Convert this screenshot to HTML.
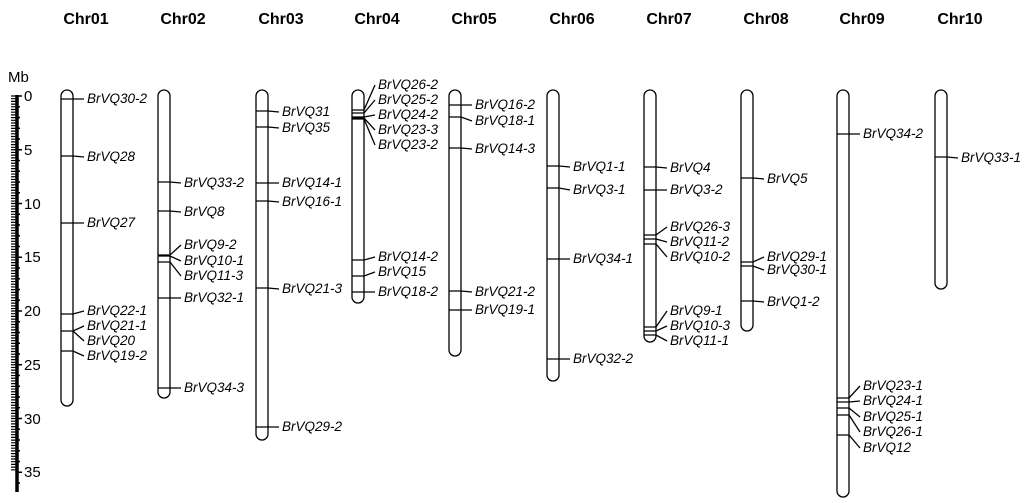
<!DOCTYPE html>
<html><head><meta charset="utf-8"><style>
body{margin:0;background:#fff}
svg{display:block}
.h{font:bold 16px "Liberation Sans",sans-serif}
.l{font:italic 13.5px "Liberation Sans",sans-serif}
.n{font:15px "Liberation Sans",sans-serif}
</style></head><body>
<svg width="1024" height="503" xmlns="http://www.w3.org/2000/svg" stroke="#000" stroke-width="1.3" fill="none">
<g class="h" fill="#000" stroke="none" text-anchor="middle">
<text x="86" y="24">Chr01</text><text x="183" y="24">Chr02</text><text x="281" y="24">Chr03</text><text x="377" y="24">Chr04</text><text x="474" y="24">Chr05</text><text x="572" y="24">Chr06</text><text x="669" y="24">Chr07</text><text x="766" y="24">Chr08</text><text x="862" y="24">Chr09</text><text x="960" y="24">Chr10</text>
</g>
<text class="n" x="8" y="82" fill="#000" stroke="none">Mb</text>
<line x1="17" y1="95" x2="17" y2="492" stroke-width="3.5"/>
<path id="tk" stroke-width="1.2" d="
M11 96.0h7 M11 98.7h7 M11 101.4h7 M11 104.1h7 M11 106.8h7 M11 109.5h7 M11 112.2h7 M11 114.9h7 M11 117.6h7 M11 120.3h7 M11 123.0h7 M11 125.7h7 M11 128.4h7 M11 131.1h7 M11 133.8h7 M11 136.5h7 M11 139.2h7 M11 141.9h7 M11 144.6h7 M11 147.3h7"/>
<use href="#tk" y="53.75"/><use href="#tk" y="107.5"/><use href="#tk" y="161.25"/><use href="#tk" y="215"/><use href="#tk" y="268.75"/><use href="#tk" y="322.5"/>
<g stroke-width="1.5">
<path d="M17 96h5M17 106.75h3M17 117.5h3M17 128.25h3M17 139h3"/>
<path d="M17 149.75h5M17 160.5h3M17 171.25h3M17 182h3M17 192.75h3"/>
<path d="M17 203.5h5M17 214.25h3M17 225h3M17 235.75h3M17 246.5h3"/>
<path d="M17 257.25h5M17 268h3M17 278.75h3M17 289.5h3M17 300.25h3"/>
<path d="M17 311h5M17 321.75h3M17 332.5h3M17 343.25h3M17 354h3"/>
<path d="M17 364.75h5M17 375.5h3M17 386.25h3M17 397h3M17 407.75h3"/>
<path d="M17 418.5h5M17 429.25h3M17 440h3M17 450.75h3M17 461.5h3"/>
<path d="M17 472.25h5M17 483h3"/>
</g>
<g class="n" fill="#000" stroke="none">
<text x="24" y="101">0</text><text x="24" y="155">5</text><text x="24" y="209">10</text><text x="24" y="262">15</text><text x="24" y="316">20</text><text x="24" y="370">25</text><text x="24" y="424">30</text><text x="24" y="477">35</text>
</g>
<rect x="61" y="90" width="12" height="316" rx="6"/>
<rect x="158" y="90" width="12" height="308" rx="6"/>
<rect x="256" y="90" width="12" height="350" rx="6"/>
<rect x="352" y="90" width="12" height="213" rx="6"/>
<rect x="449" y="90" width="12" height="266" rx="6"/>
<rect x="547" y="90" width="12" height="291" rx="6"/>
<rect x="644" y="90" width="12" height="252" rx="6"/>
<rect x="741" y="90" width="12" height="241" rx="6"/>
<rect x="837" y="90" width="12" height="407" rx="6"/>
<rect x="935" y="90" width="12" height="199" rx="6"/>
<path d="
M61 99H73L84 99 M61 156H73L84 157 M61 223H73L84 223 M61 314H73L84 311 M61 331H73L84 326 M73 331L84 341 M61 351H73L84 356
M158 182H170L181 183 M158 211H170L181 212 M158 255H170L181 245 M158 256H170L181 261 M158 262H170L181 276 M158 298H170L181 298 M158 388H170L181 388
M256 111H268L279 112 M256 127H268L279 128 M256 183H268L279 183 M256 201H268L279 202 M256 288H268L279 289 M256 427H268L279 427
M352 110H364L375 85 M352 113H364L375 100 M352 117H364L375 115 M352 118H364L375 130 M352 119H364L375 145 M352 260H364L375 257 M352 276H364L375 272 M352 292H364L375 292
M449 105H461L472 105 M449 117H461L472 121 M449 148H461L472 149 M449 291H461L472 292 M449 310H461L472 310
M547 166H559L570 167 M547 188H559L570 190 M547 259H559L570 259 M547 359H559L570 359
M644 167H656L667 168 M644 190H656L667 190 M644 235H656L667 227 M644 239H656L667 242 M644 244H656L667 257 M644 327H656L667 311 M644 331H656L667 326 M644 335H656L667 341
M741 178H753L764 179 M741 262H753L764 257 M741 266H753L764 270 M741 301H753L764 302
M837 134H849L860 134 M837 398H849L860 386 M837 402H849L860 401 M837 408H849L860 417 M837 415H849L860 432 M837 435H849L860 448
M935 157H947L958 158"/>
<g class="l" fill="#000" stroke="none">
<text x="87" y="103">BrVQ30-2</text><text x="87" y="161">BrVQ28</text><text x="87" y="227">BrVQ27</text><text x="87" y="315">BrVQ22-1</text><text x="87" y="330">BrVQ21-1</text><text x="87" y="345">BrVQ20</text><text x="87" y="360">BrVQ19-2</text>
<text x="184" y="187">BrVQ33-2</text><text x="184" y="216">BrVQ8</text><text x="184" y="249">BrVQ9-2</text><text x="184" y="265">BrVQ10-1</text><text x="184" y="280">BrVQ11-3</text><text x="184" y="302">BrVQ32-1</text><text x="184" y="392">BrVQ34-3</text>
<text x="282" y="116">BrVQ31</text><text x="282" y="132">BrVQ35</text><text x="282" y="187">BrVQ14-1</text><text x="282" y="206">BrVQ16-1</text><text x="282" y="293">BrVQ21-3</text><text x="282" y="431">BrVQ29-2</text>
<text x="378" y="89">BrVQ26-2</text><text x="378" y="104">BrVQ25-2</text><text x="378" y="119">BrVQ24-2</text><text x="378" y="134">BrVQ23-3</text><text x="378" y="149">BrVQ23-2</text><text x="378" y="261">BrVQ14-2</text><text x="378" y="276">BrVQ15</text><text x="378" y="296">BrVQ18-2</text>
<text x="475" y="109">BrVQ16-2</text><text x="475" y="125">BrVQ18-1</text><text x="475" y="153">BrVQ14-3</text><text x="475" y="296">BrVQ21-2</text><text x="475" y="314">BrVQ19-1</text>
<text x="573" y="171">BrVQ1-1</text><text x="573" y="194">BrVQ3-1</text><text x="573" y="263">BrVQ34-1</text><text x="573" y="363">BrVQ32-2</text>
<text x="670" y="172">BrVQ4</text><text x="670" y="194">BrVQ3-2</text><text x="670" y="231">BrVQ26-3</text><text x="670" y="246">BrVQ11-2</text><text x="670" y="261">BrVQ10-2</text><text x="670" y="315">BrVQ9-1</text><text x="670" y="330">BrVQ10-3</text><text x="670" y="345">BrVQ11-1</text>
<text x="767" y="183">BrVQ5</text><text x="767" y="261">BrVQ29-1</text><text x="767" y="274">BrVQ30-1</text><text x="767" y="306">BrVQ1-2</text>
<text x="863" y="138">BrVQ34-2</text><text x="863" y="390">BrVQ23-1</text><text x="863" y="405">BrVQ24-1</text><text x="863" y="421">BrVQ25-1</text><text x="863" y="436">BrVQ26-1</text><text x="863" y="452">BrVQ12</text>
<text x="961" y="162">BrVQ33-1</text>
</g>
</svg>
</body></html>
